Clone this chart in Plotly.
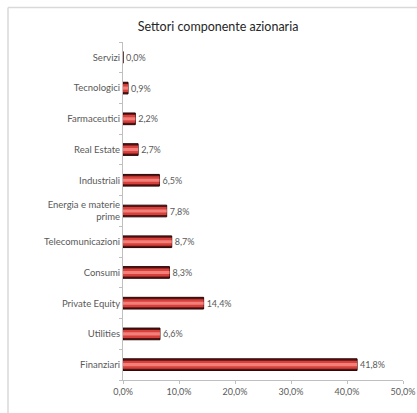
import plotly.graph_objects as go

# Equity sector breakdown (percent of the equity component)
sectors = [
    "Servizi", "Tecnologici", "Farmaceutici", "Real Estate", "Industriali",
    "Energia e materie<br>prime", "Telecomunicazioni", "Consumi",
    "Private Equity", "Utilities", "Finanziari",
]
weights = [0.0, 0.9, 2.2, 2.7, 6.5, 7.8, 8.7, 8.3, 14.4, 6.6, 41.8]
x_ticks = [0, 10, 20, 30, 40, 50]
x_tick_labels = ["0,0%", "10,0%", "20,0%", "30,0%", "40,0%", "50,0%"]

labels = [f"{v:.1f}%".replace(".", ",") for v in weights]
font = "Lato, 'Open Sans', sans-serif"
grey = "#595959"
frame = "#d9d9d9"

ML, MR, MT, MB = 123, 14, 42, 33
W, H = 417, 413
pw, ph = W - ML - MR, H - MT - MB

fig = go.Figure()
# Dark body giving the bar its shaded rim
fig.add_trace(go.Bar(
    x=weights, y=sectors, orientation="h", width=0.38,
    marker=dict(color="#5a1212", line=dict(color="#2a0606", width=1)),
    text=labels, textposition="outside", cliponaxis=False,
    textfont=dict(family=font, size=9, color=grey),
    hoverinfo="skip",
))
# Red face of the bar
fig.add_trace(go.Bar(
    x=weights, y=sectors, orientation="h", width=0.26,
    marker=dict(color="#d8403c", line=dict(width=0)),
    hoverinfo="skip",
))
# Light streak along the middle
fig.add_trace(go.Bar(
    x=weights, y=sectors, orientation="h", width=0.1,
    marker=dict(color="#f2807a", line=dict(width=0)),
    hoverinfo="skip",
))

# Chart-area border: only its left and top edges fall inside the page
fx = -(ML - 8) / pw
fy = 1 + (MT - 7.5) / ph
fig.update_layout(
    width=W, height=H,
    margin=dict(l=ML, r=MR, t=MT, b=MB, autoexpand=False),
    paper_bgcolor="white", plot_bgcolor="white",
    barmode="overlay", showlegend=False,
    title=dict(text="Settori componente azionaria", x=0.523, xanchor="center",
               y=1 - 27 / H, yanchor="middle",
               font=dict(family=font, size=12.5, color="#262626")),
    font=dict(family=font, size=9, color=grey),
    shapes=[
        dict(type="line", xref="paper", yref="paper",
             x0=fx, x1=fx, y0=-MB / ph - 0.05, y1=fy,
             line=dict(color=frame, width=1.5), layer="below"),
        dict(type="line", xref="paper", yref="paper",
             x0=fx, x1=1 + (MR + 5) / pw, y0=fy, y1=fy,
             line=dict(color=frame, width=1.5), layer="below"),
    ],
)
fig.update_xaxes(
    range=[0, 50], tickvals=x_ticks, ticktext=x_tick_labels,
    automargin=False,
    showgrid=False, zeroline=False, showline=True, linecolor="#bfbfbf",
    ticks="outside", ticklen=3, tickcolor="#bfbfbf",
    ticklabeloverflow="allow",
    tickfont=dict(family=font, size=9, color=grey),
)
fig.update_yaxes(
    categoryorder="array", categoryarray=sectors[::-1],
    automargin=False,
    showgrid=False, zeroline=False, showline=True, linecolor="#bfbfbf",
    ticks="outside", ticklen=3, tickcolor="#bfbfbf", tickson="boundaries",
    tickfont=dict(family=font, size=9.5, color=grey),
)

fig.write_html("out.html", config={"displayModeBar": False})
